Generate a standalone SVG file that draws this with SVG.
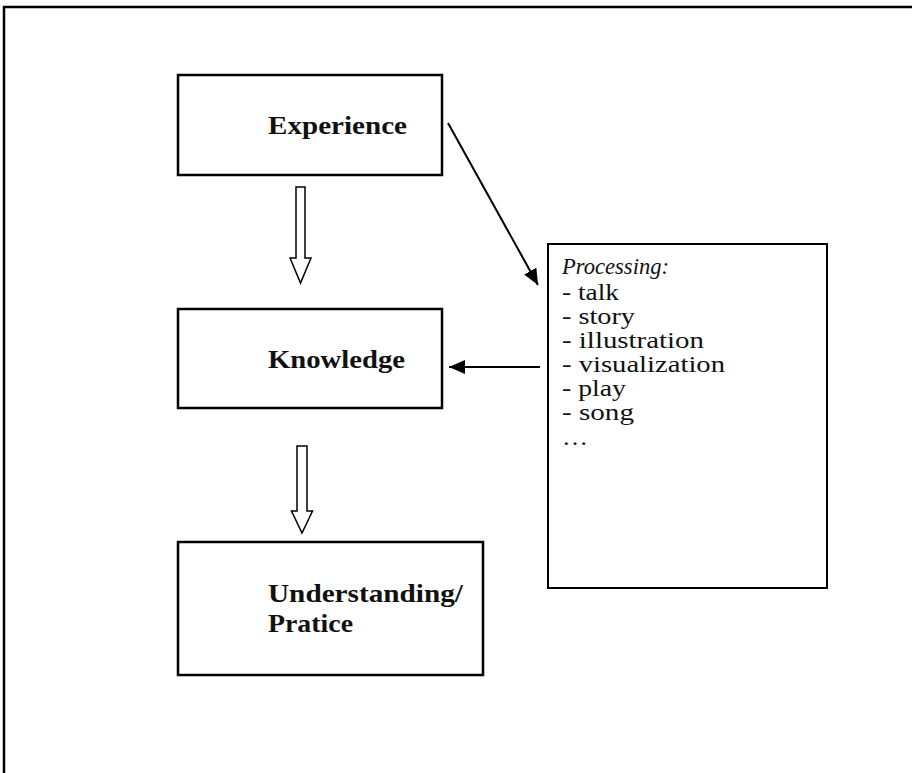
<svg xmlns="http://www.w3.org/2000/svg" width="912" height="773" viewBox="0 0 912 773">
<style>
.box{fill:#fff;stroke:#000;stroke-width:2.5}
.pbox{fill:#fff;stroke:#000;stroke-width:2}
.lbl{font-family:"Liberation Serif","Times New Roman",serif;font-size:25px;font-weight:bold;fill:#111}
.lst{font-family:"Liberation Serif","Times New Roman",serif;font-size:24px;fill:#111}
.conn{stroke:#000;stroke-width:2;fill:none}
.block{fill:#fff;stroke:#000;stroke-width:1.5}
.frame{fill:none;stroke:#000;stroke-width:2.5}
</style>
<defs>
<marker id="ah" markerWidth="16" markerHeight="14" viewBox="0 0 16 14" refX="16" refY="7" orient="auto" markerUnits="userSpaceOnUse"><path d="M0,0 L16,7 L0,14 z" fill="#000"/></marker>
</defs>
<rect width="912" height="773" fill="#fff"/>
<path class="frame" d="M4,773 V7 H912"/>
<g id="experience">
<rect class="box" x="178" y="75" width="264" height="100"/>
<text class="lbl" x="268" y="134" textLength="139" lengthAdjust="spacingAndGlyphs">Experience</text>
</g>
<g id="knowledge">
<rect class="box" x="178" y="309" width="264" height="99"/>
<text class="lbl" x="268" y="368" textLength="137" lengthAdjust="spacingAndGlyphs">Knowledge</text>
</g>
<g id="understanding">
<rect class="box" x="178" y="542" width="305" height="133"/>
<text class="lbl" x="268" y="602" textLength="195" lengthAdjust="spacingAndGlyphs">Understanding/</text>
<text class="lbl" x="268" y="632" textLength="85" lengthAdjust="spacingAndGlyphs">Pratice</text>
</g>
<g id="processing">
<rect class="pbox" x="548" y="244" width="279" height="344"/>
<text class="lst" x="562" y="274" font-style="italic" textLength="107" lengthAdjust="spacingAndGlyphs">Processing:</text>
<text class="lst" x="562" y="300" textLength="57" lengthAdjust="spacingAndGlyphs">- talk</text>
<text class="lst" x="562" y="324" textLength="73" lengthAdjust="spacingAndGlyphs">- story</text>
<text class="lst" x="562" y="348" textLength="142" lengthAdjust="spacingAndGlyphs">- illustration</text>
<text class="lst" x="562" y="372" textLength="163" lengthAdjust="spacingAndGlyphs">- visualization</text>
<text class="lst" x="562" y="396" textLength="64" lengthAdjust="spacingAndGlyphs">- play</text>
<text class="lst" x="562" y="420" textLength="72" lengthAdjust="spacingAndGlyphs">- song</text>
<text class="lst" x="562" y="445" textLength="26" lengthAdjust="spacingAndGlyphs">…</text>
</g>
<g id="connectors">
<path class="block" d="M296,187 H305 V258 H311 L300.5,283 L290,258 H296 Z"/>
<path class="block" d="M297,446 H307 V511 H312.5 L302,533 L291.5,511 H297 Z"/>
<line class="conn" x1="448" y1="123" x2="538" y2="285" marker-end="url(#ah)"/>
<line class="conn" x1="540" y1="367" x2="449" y2="367" marker-end="url(#ah)"/>
</g>
</svg>
